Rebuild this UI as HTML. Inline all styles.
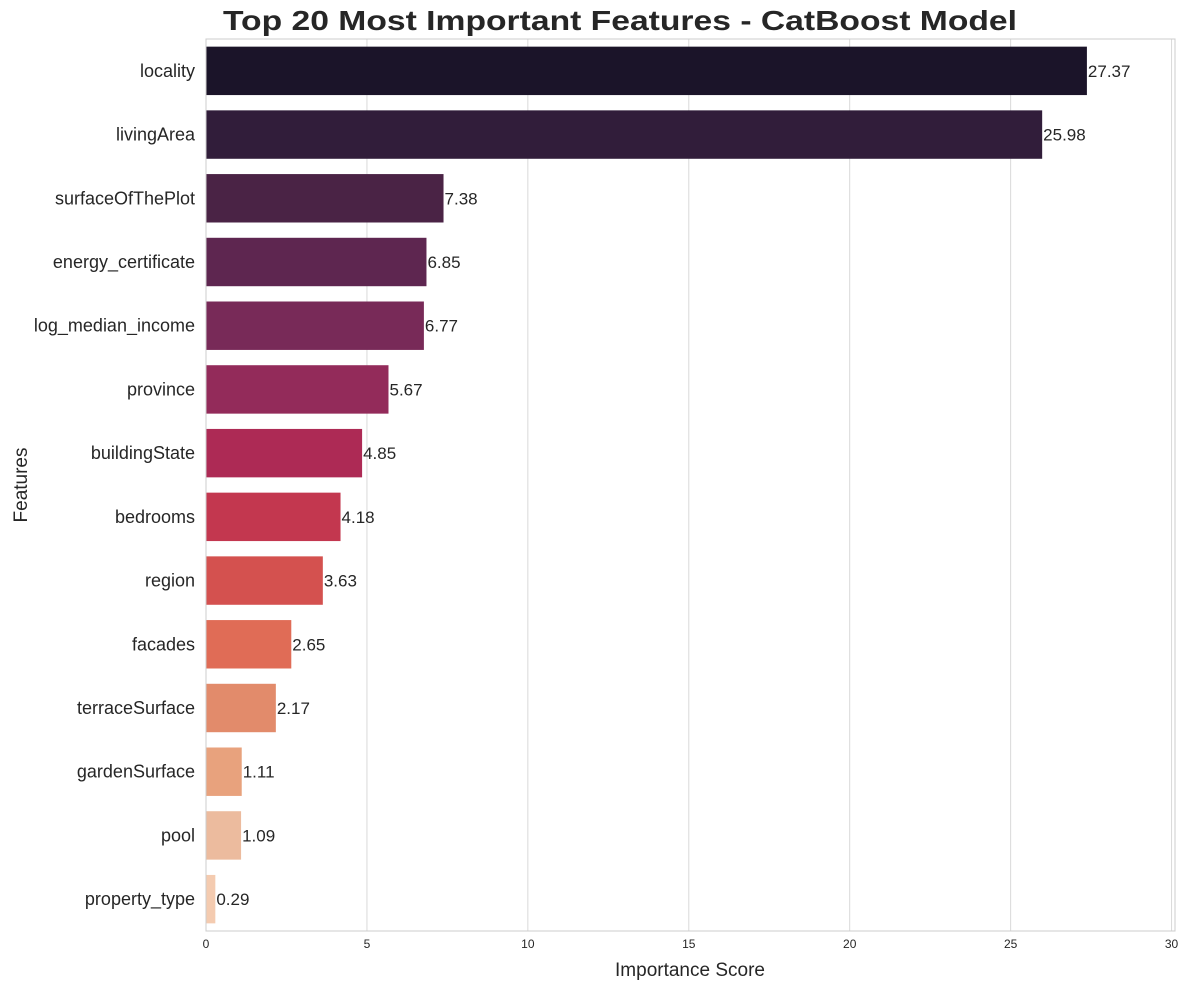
<!DOCTYPE html>
<html><head><meta charset="utf-8"><style>
body{margin:0;background:#fff;font-family:"Liberation Sans",Arial,sans-serif}
</style></head><body>
<svg id="chart" width="1189" height="990" font-family="Liberation Sans, Arial, sans-serif">
<rect width="1189" height="990" fill="#fff"/>
<text x="620" y="30" text-anchor="middle" font-size="28" font-weight="bold" fill="#262626" textLength="794" lengthAdjust="spacingAndGlyphs">Top 20 Most Important Features - CatBoost Model</text>
<text x="690" y="976" text-anchor="middle" font-size="19" fill="#262626">Importance Score</text>
<text transform="translate(27,485) rotate(-90)" text-anchor="middle" font-size="19" fill="#262626">Features</text>
<g id="grid"></g><g id="bars"></g><g id="labels"></g>
<rect x="206" y="39" width="969" height="892" fill="none" stroke="#cccccc" stroke-width="1"/>
</svg>
<script>
const categories=["locality","livingArea","surfaceOfThePlot","energy_certificate","log_median_income","province","buildingState","bedrooms","region","facades","terraceSurface","gardenSurface","pool","property_type"];
const values=[27.37,25.98,7.38,6.85,6.77,5.67,4.85,4.18,3.63,2.65,2.17,1.11,1.09,0.29];
const colors=["#1b1429","#311d3a","#4a2345","#5e2650","#782a58","#932b5a","#ad2a55","#c3374f","#d4514f","#e06c56","#e28b6b","#e8a27d","#ecbb9e","#f4cbb0"];
const xTicks=[0,5,10,15,20,25,30];
const NS="http://www.w3.org/2000/svg";
const L=206,R=1175,T=39,B=931;
const xMax=Math.max(...values)*1.1;
const xs=v=>L+(R-L)*v/xMax;
const band=(B-T)/categories.length;
const yc=i=>T+band*(i+0.5);
function mk(t,a,p){const e=document.createElementNS(NS,t);for(const k in a)e.setAttribute(k,a[k]);p.appendChild(e);return e;}
const g=document.getElementById('grid'),bg=document.getElementById('bars'),lg=document.getElementById('labels');
xTicks.forEach(t=>{
 const l=mk('line',{x1:xs(t),x2:xs(t),y1:T,y2:B,stroke:'#d9d9d9','stroke-width':1},g);
 
 
 const tx=mk('text',{x:xs(t),y:B+17,'text-anchor':'middle','font-size':12,fill:'#262626'},lg);
 tx.textContent=t;
 
 
});
categories.forEach((c,i)=>{
 const h=band*0.76;
 const r=mk('rect',{x:L,y:yc(i)-h/2,width:xs(values[i])-L,height:h,fill:colors[i]},bg);
 
 
 const cl=mk('text',{x:195,y:yc(i)+6,'text-anchor':'end','font-size':18,fill:'#262626'},lg);
 cl.textContent=c;
 
 
 const vl=mk('text',{x:xs(values[i])+1,y:yc(i)+6,'font-size':17,fill:'#262626'},lg);
 vl.textContent=values[i].toFixed(2);
 
 
});
</script>
</body></html>
